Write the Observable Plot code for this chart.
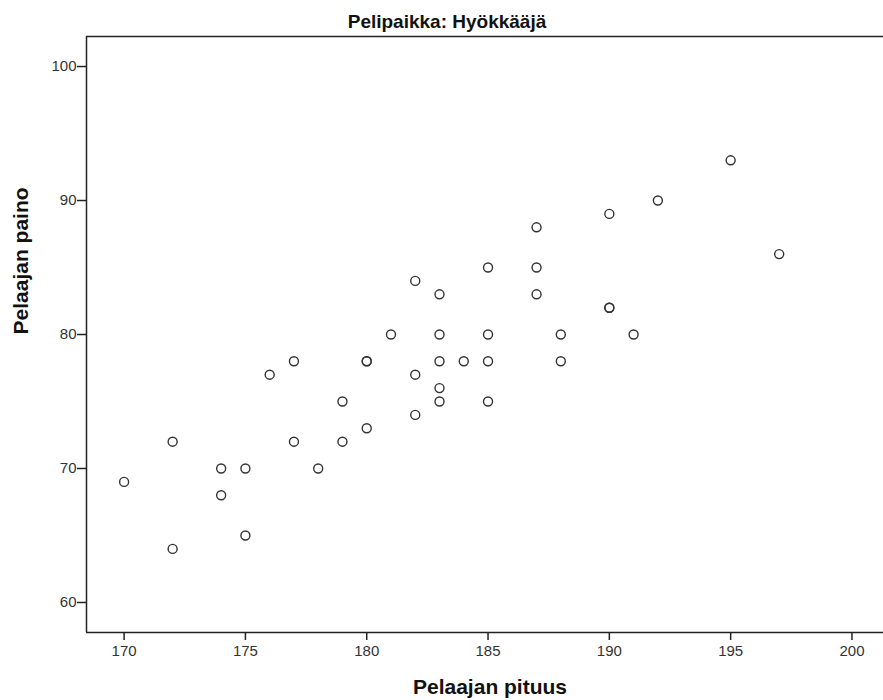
<!DOCTYPE html>
<html>
<head>
<meta charset="utf-8">
<script src="https://cdn.jsdelivr.net/npm/d3@7"></script>
<script src="https://cdn.jsdelivr.net/npm/@observablehq/plot@0.6"></script>
<style>
  html, body { margin: 0; padding: 0; background: #fff; }
  svg { display: block; }
</style>
</head>
<body>
<div id="chart"></div>
<script>
const title = "Pelipaikka: Hyökkääjä";
const xLabel = "Pelaajan pituus";
const yLabel = "Pelaajan paino";
const xTicks = [170, 175, 180, 185, 190, 195, 200];
const yTicks = [60, 70, 80, 90, 100];
const xDomain = [168.45, 201.3];
const yDomain = [57.76, 102.24];

// Pelaajan pituus (cm)
const height = [
  170, 172, 172, 174, 174, 175, 175, 176, 177, 177, 178, 179, 179,
  180, 180, 180, 181, 182, 182, 182, 183, 183, 183, 183, 183, 184,
  185, 185, 185, 185, 187, 187, 187, 188, 188, 190, 190, 190, 191,
  192, 195, 197
];
// Pelaajan paino (kg)
const weight = [
  69, 72, 64, 70, 68, 70, 65, 77, 78, 72, 70, 75, 72,
  78, 78, 73, 80, 84, 77, 74, 83, 80, 78, 76, 75, 78,
  85, 80, 78, 75, 88, 85, 83, 80, 78, 89, 82, 82, 80,
  90, 93, 86
];

const data = height.map((h, i) => ({pituus: h, paino: weight[i]}));

const W = 883, H = 700;
const chart = Plot.plot({
  width: W,
  height: H,
  marginLeft: 86,
  marginRight: 0,
  marginTop: 36,
  marginBottom: 68,
  style: {fontFamily: "Liberation Sans, Arial, sans-serif", background: "#fff", color: "#222"},
  x: {domain: xDomain},
  y: {domain: yDomain},
  marks: [
    Plot.axisX({ticks: xTicks, tickSize: 8, tickPadding: 5, fontSize: 15, label: null, stroke: "#222", strokeWidth: 1.5, fill: "#333"}),
    Plot.axisY({ticks: yTicks, tickSize: 9, tickPadding: 1, fontSize: 15, label: null, stroke: "#222", strokeWidth: 1.5, fill: "#333"}),
    Plot.ruleX([xDomain[0]], {stroke: "#222", strokeWidth: 1.5}),
    Plot.ruleY([yDomain[0], yDomain[1]], {stroke: "#222", strokeWidth: 1.5}),
    Plot.dot(data, {x: "pituus", y: "paino", r: 4.5, stroke: "#333", strokeWidth: 1.4, fill: "none"}),
    Plot.text([title], {frameAnchor: "top", lineAnchor: "bottom", dy: -9, dx: -38, fontSize: 19, fontWeight: "bold", fill: "#111"}),
    Plot.text([xLabel], {frameAnchor: "bottom", lineAnchor: "bottom", dy: 61, dx: 5, fontSize: 21, fontWeight: "bold", fill: "#111"}),
    Plot.text([yLabel], {frameAnchor: "left", dx: -65, rotate: -90, fontSize: 21, fontWeight: "bold", fill: "#111"})
  ]
});
document.getElementById("chart").appendChild(chart);
</script>
</body>
</html>
